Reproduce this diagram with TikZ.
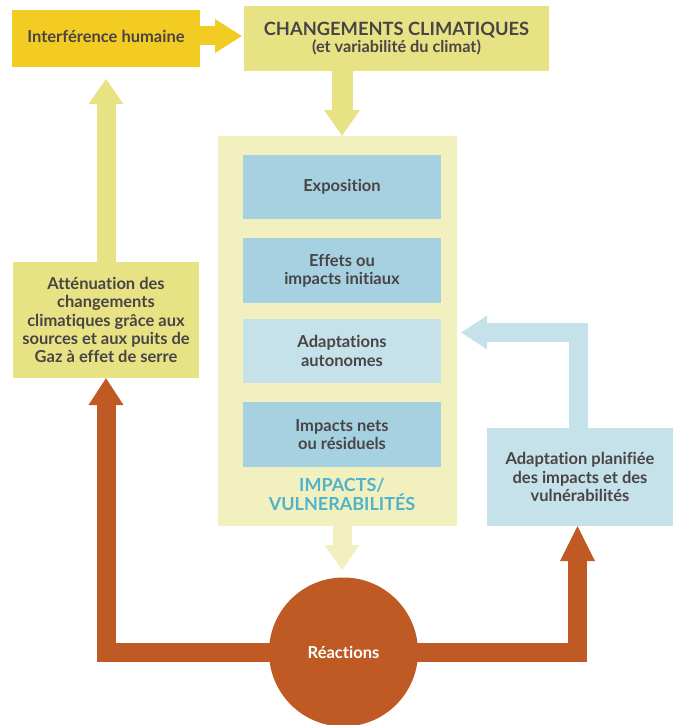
\documentclass[tikz,border=0pt]{standalone}
\usepackage{fontspec}
\setmainfont{Lato}[Ligatures=NoCommon]
\usetikzlibrary{calc}
\definecolor{gold}{HTML}{F2CC23}
\definecolor{olive}{HTML}{E7E384}
\definecolor{pale}{HTML}{F3F0BF}
\definecolor{blu}{HTML}{A6D1E0}
\definecolor{lblu}{HTML}{C5E2EA}
\definecolor{rust}{HTML}{C05A25}
\definecolor{txt}{HTML}{4A4446}
\definecolor{tealc}{HTML}{4FB4CA}
\pgfdeclarelayer{bg}
\pgfsetlayers{bg,main}
\newcommand\headto[4]{\fill[#4] ($(#1)!#3!90:(#2)$) -- (#2) -- ($(#1)!#3!-90:(#2)$) -- cycle;}
\begin{document}
\begin{tikzpicture}[x=1pt,y=-1pt,
  box/.style={inner sep=0pt, align=center, text=txt, font=\bfseries\fontsize{16.5}{18.2}\selectfont},
  inbox/.style={box, fill=blu, minimum width=198pt, minimum height=64.5pt},
  shaft/.style={line width=19pt, line join=miter}]
\useasboundingbox (0,0) rectangle (673,725);
% nodes
\node[box, fill=gold, minimum width=188pt, minimum height=57pt, text depth=4pt] (interf) at (106,38.5) {Interférence humaine};
\node[box, fill=olive, minimum width=305pt, minimum height=65pt] (chg) at (396.5,38.5)
  {{\fontsize{18.3}{20}\selectfont CHANGEMENTS CLIMATIQUES}\\[-1.5pt]{\fontsize{16.3}{18}\selectfont (et variabilité du climat)}};
\node[box, fill=pale, minimum width=239pt, minimum height=390pt] (bigbox) at (337.5,331) {};
\node[inbox, text depth=4pt] (expo) at (342,187) {Exposition};
\node[inbox] (eff) at (342,270.5) {Effets ou\\impacts initiaux};
\node[inbox, fill=lblu] (auto) at (342,351) {Adaptations\\autonomes};
\node[inbox] (nets) at (342,434.5) {Impacts nets\\ou résiduels};
\node[box, text=tealc, font=\bfseries\fontsize{18}{17.5}\selectfont] (vuln) at (342,494.5) {IMPACTS/\\VULNERABILITÉS};
\node[box, fill=olive, minimum width=186pt, minimum height=116pt] (atten) at (106,320)
  {Atténuation des\\changements\\climatiques grâce aux\\sources et aux puits de\\Gaz à effet de serre};
\node[box, fill=lblu, minimum width=186pt, minimum height=98pt] (plan) at (580,477)
  {Adaptation planifiée\\des impacts et des\\vulnérabilités};
\node[circle, fill=rust, minimum size=149pt, inner sep=0pt, text=white, font=\bfseries\fontsize{16.5}{18}\selectfont] (reac) at (343.5,652) {Réactions};
% connectors
\begin{pgfonlayer}{bg}
% interference -> changements
\coordinate (ibase) at (215,36);
\coordinate (itip) at ($(chg.west |- ibase)+(-2,0)$);
\draw[gold, shaft] (interf.east |- ibase) -- (ibase);
\headto{ibase}{itip}{17pt}{gold}
% changements -> impacts
\coordinate (dbase) at (342,110);
\coordinate (dtip) at (bigbox.north -| expo);
\draw[olive, shaft, line width=21pt] (chg.south -| expo) -- (dbase);
\headto{dbase}{dtip}{18pt}{olive}
% impacts -> reactions
\coordinate (sbase) at (342,545);
\coordinate (stip) at (342,570);
\draw[pale, shaft] (bigbox.south -| expo) -- (sbase);
\headto{sbase}{stip}{17.5pt}{pale}
% attenuation -> interference
\coordinate (ubase) at (106,104);
\coordinate (utip) at (106,79);
\draw[olive, shaft] (atten.north) -- (ubase);
\headto{ubase}{utip}{17.5pt}{olive}
% reactions -> attenuation
\coordinate (lbase) at (106,405);
\draw[rust, shaft] (reac.center) -| (lbase);
\headto{lbase}{atten.south}{17.5pt}{rust}
% reactions -> adaptation planifiee
\coordinate (rbase) at (577.5,561);
\coordinate (rtip) at (plan.south -| rbase);
\draw[rust, shaft] (reac.center) -| (rbase);
\headto{rbase}{rtip}{17.5pt}{rust}
% adaptation planifiee -> adaptations autonomes
\coordinate (bcorner) at (578.5,332.5);
\coordinate (bbase) at (487,332.5);
\coordinate (btip) at ($(bigbox.east |- bcorner)+(4,0)$);
\draw[lblu, shaft] (plan.north -| bcorner) -- (bcorner) -- (bbase);
\headto{bbase}{btip}{17pt}{lblu}
\end{pgfonlayer}
\end{tikzpicture}
\end{document}
